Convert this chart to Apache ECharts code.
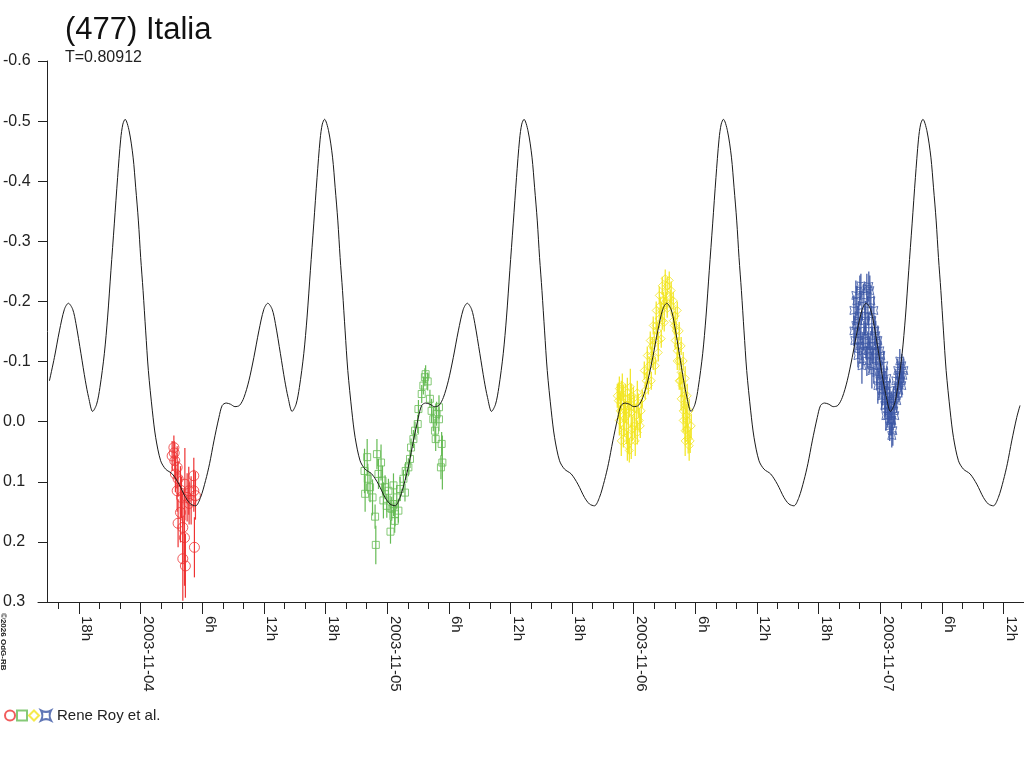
<!DOCTYPE html>
<html>
<head>
<meta charset="utf-8">
<script src="https://cdn.jsdelivr.net/npm/echarts/dist/echarts.min.js"></script>
<style>html,body{margin:0;padding:0;background:#fff}#c{width:1024px;height:768px}</style>
</head>
<body>
<div id="c"></div>
<script>
// ---- Data (time in hours from 2003-11-04 00:00 UT, magnitude) ----
const titleText = '(477) Italia';
const periodText = 'T=0.80912';
const periodDays = 0.80912;
const modelPeakHour = 17.90;           // a maximum (-0.5 mag) of the model curve

// one cycle of the model curve, hours after a maximum
const cycleDt  = [0,0.389,0.777,1.030,1.293,1.516,1.749,2.002,2.264,2.653,2.974,3.460,3.946,4.597,5.248,5.889,6.375,6.861,7.347,7.833,8.222,8.649,9.135,9.456,9.845,10.263,10.690,11.137,11.565,12.051,12.537,13.023,13.509,13.897,14.315,14.636,15.122,15.549,15.870,16.259,16.647,16.968,17.396,17.716,18.037,18.367,18.688,18.99,19.2];
const cycleMag = [-0.503,-0.484,-0.440,-0.390,-0.334,-0.273,-0.218,-0.151,-0.085,-0.018,0.026,0.065,0.079,0.087,0.104,0.126,0.137,0.140,0.126,0.098,0.070,0.032,-0.007,-0.027,-0.031,-0.029,-0.025,-0.027,-0.040,-0.068,-0.107,-0.151,-0.187,-0.197,-0.187,-0.163,-0.113,-0.068,-0.040,-0.017,-0.029,-0.057,-0.113,-0.174,-0.251,-0.329,-0.406,-0.470,-0.495];
const curveStart = -9.09, curveEnd = 85.87;

// observations [hour, mag, error]
const redObs = [
 [3.23,0.043,0.02],[3.06,0.057,0.025],[3.32,0.065,0.03],[3.55,0.076,0.035],[3.38,0.087,0.03],
 [3.55,0.115,0.035],[3.87,0.114,0.04],[4.30,0.104,0.06],[4.68,0.115,0.04],[5.17,0.090,0.03],
 [5.17,0.115,0.035],[4.52,0.126,0.04],[3.97,0.126,0.035],[5.33,0.123,0.04],[3.87,0.151,0.05],
 [3.64,0.169,0.04],[4.10,0.176,0.06],[4.26,0.193,0.08],[5.23,0.209,0.05],[4.10,0.228,0.07],
 [4.35,0.240,0.053],[3.26,0.052,0.02],[3.64,0.095,0.03],[4.91,0.131,0.04],[4.71,0.136,0.035]
];
const greenObs = [
 [22.05,0.059,0.03],[21.79,0.082,0.037],[22.11,0.095,0.025],[21.85,0.120,0.03],[22.33,0.109,0.025],
 [22.57,0.126,0.03],[23.00,0.054,0.025],[23.40,0.068,0.03],[23.15,0.087,0.025],[23.54,0.098,0.025],
 [23.79,0.109,0.02],[23.63,0.131,0.03],[24.12,0.115,0.02],[22.82,0.158,0.02],[22.89,0.205,0.032],
 [24.32,0.183,0.02],[24.28,0.143,0.02],[24.61,0.137,0.02],[24.76,0.154,0.02],[25.09,0.148,0.02],
 [24.93,0.126,0.02],[24.61,0.106,0.02],[25.25,0.112,0.02],[25.73,0.118,0.015],[25.58,0.095,0.015],
 [25.80,0.082,0.015],[26.06,0.076,0.015],[26.22,0.062,0.015],[26.32,0.043,0.015],[26.55,0.029,0.015],
 [26.71,0.015,0.015],[26.97,0.004,0.015],[27.04,-0.021,0.015],[27.36,-0.046,0.015],[27.52,-0.060,0.015],
 [27.67,-0.074,0.015],[27.94,-0.067,0.015],[27.74,-0.079,0.015],[28.32,-0.018,0.02],[28.49,-0.004,0.02],
 [28.81,-0.013,0.02],[29.04,-0.004,0.02],[28.65,0.015,0.02],[28.72,0.029,0.02],[29.30,0.037,0.02],
 [29.37,0.068,0.045],[29.23,0.076,0.02],[28.16,-0.038,0.015],[29.04,-0.024,0.02],
 [24.44,0.145,0.02],[24.73,0.165,0.02],[23.96,0.140,0.02]
];
const yellowObs = [
 [46.60,-0.055,0.02],[46.79,-0.043,0.025],[46.99,-0.032,0.03],[46.70,-0.018,0.03],[47.08,-0.005,0.03],
 [47.38,-0.048,0.025],[47.57,-0.027,0.02],[47.28,0.007,0.03],[47.76,-0.015,0.025],[47.96,-0.038,0.02],
 [47.47,0.023,0.03],[48.06,0.007,0.02],[48.25,-0.010,0.02],[47.76,0.032,0.03],[48.44,-0.027,0.02],
 [48.54,-0.002,0.02],[46.99,0.018,0.025],[47.67,-0.058,0.03],[48.15,0.032,0.025],[48.73,-0.018,0.02],
 [46.50,-0.035,0.03],[47.18,-0.018,0.02],[47.86,0.012,0.02],[48.35,0.018,0.02],[47.38,0.040,0.025],
 [46.40,-0.043,0.02],[46.60,-0.002,0.025],[46.89,-0.060,0.02],[47.18,-0.038,0.025],[47.47,-0.015,0.02],
 [47.76,-0.043,0.02],[48.06,-0.022,0.02],[48.35,-0.048,0.02],[48.64,0.007,0.02],[46.79,0.032,0.025],
 [47.57,0.048,0.02],
 [48.83,-0.038,0.015],[49.12,-0.052,0.015],[49.22,-0.068,0.015],[49.42,-0.060,0.015],[49.51,-0.093,0.015],
 [49.71,-0.110,0.015],[49.90,-0.101,0.015],[50.00,-0.135,0.015],[50.29,-0.151,0.015],[50.39,-0.135,0.015],
 [50.49,-0.171,0.015],[50.68,-0.185,0.015],[50.78,-0.168,0.015],[50.88,-0.201,0.015],[50.97,-0.193,0.015],
 [51.07,-0.215,0.015],[51.17,-0.201,0.015],[51.26,-0.226,0.015],[51.46,-0.235,0.015],[51.65,-0.218,0.015],
 [49.32,-0.082,0.015],[49.81,-0.126,0.015],[50.19,-0.160,0.015],[50.58,-0.193,0.015],
 [49.03,-0.085,0.015],[49.32,-0.110,0.015],[49.61,-0.135,0.015],[49.90,-0.160,0.015],[50.19,-0.185,0.015],
 [50.49,-0.210,0.015],[50.78,-0.226,0.015],[51.07,-0.238,0.015],
 [49.71,-0.068,0.015],[50.10,-0.093,0.015],[50.39,-0.115,0.015],[50.68,-0.138,0.015],[50.97,-0.165,0.015],
 [51.26,-0.188,0.015],[51.55,-0.205,0.015],
 [51.85,-0.201,0.015],[51.95,-0.160,0.015],[52.04,-0.176,0.015],[52.14,-0.151,0.015],[52.24,-0.118,0.015],
 [52.33,-0.126,0.015],[52.43,-0.101,0.015],[52.53,-0.068,0.015],[52.62,-0.082,0.02],[52.72,-0.060,0.02],
 [52.82,-0.018,0.02],[52.92,-0.043,0.02],[53.01,-0.027,0.02],[53.01,0.015,0.02],[53.11,-0.010,0.02],
 [53.21,0.012,0.02],[53.21,-0.002,0.02],[53.30,0.028,0.025],[53.40,0.040,0.025],[53.50,0.032,0.02],
 [51.65,-0.193,0.015],[51.85,-0.168,0.015],[52.04,-0.135,0.015],[52.24,-0.101,0.015],[52.43,-0.068,0.015],
 [52.62,-0.038,0.02],[52.82,-0.002,0.02],[53.01,0.032,0.025],
 [52.24,-0.185,0.015],[52.43,-0.151,0.015],[52.62,-0.126,0.015],[52.82,-0.101,0.015],[53.01,-0.072,0.02],
 [53.21,-0.043,0.02],[53.40,-0.018,0.02],[53.60,0.007,0.02]
];
const blueObs = [
 [69.44,-0.185,0.025],[69.63,-0.160,0.025],[69.73,-0.201,0.025],[69.83,-0.135,0.03],[69.92,-0.176,0.025],
 [70.02,-0.218,0.025],[70.12,-0.151,0.03],[70.22,-0.193,0.025],[70.31,-0.118,0.03],[70.41,-0.210,0.02],
 [70.51,-0.168,0.025],[70.60,-0.135,0.03],[70.70,-0.221,0.025],[70.80,-0.185,0.025],[70.89,-0.151,0.03],
 [70.99,-0.110,0.03],[71.09,-0.201,0.025],[71.19,-0.168,0.025],[71.28,-0.126,0.03],[71.38,-0.093,0.03],
 [71.48,-0.151,0.025],[71.57,-0.118,0.025],[71.67,-0.082,0.03],[71.77,-0.135,0.025],[71.87,-0.101,0.025],
 [71.96,-0.068,0.03],[72.06,-0.110,0.025],[72.16,-0.077,0.025],[72.25,-0.052,0.025],[72.35,-0.093,0.025],
 [72.45,-0.060,0.025],[72.55,-0.035,0.025],[72.64,-0.072,0.02],[72.74,-0.043,0.02],[72.84,-0.018,0.02],
 [72.93,-0.052,0.02],[73.03,-0.002,0.025],[73.13,-0.027,0.02],[73.23,0.015,0.025],[73.32,-0.038,0.02],
 [73.42,-0.010,0.02],[73.52,-0.068,0.02],[73.61,-0.035,0.02],[73.71,-0.085,0.02],[73.81,-0.052,0.02],
 [73.91,-0.101,0.02],[74.00,-0.068,0.02],[74.10,-0.093,0.02],[74.20,-0.077,0.02],[72.93,0.007,0.025],
 [73.13,0.023,0.02],[72.74,-0.010,0.02],[72.45,-0.027,0.02],[69.83,-0.110,0.02],[70.12,-0.226,0.02],
 [70.89,-0.225,0.025],[69.53,-0.135,0.02],[70.70,-0.101,0.025],[71.09,-0.126,0.025],
 [69.44,-0.151,0.025],[69.63,-0.210,0.025],[69.83,-0.168,0.025],[70.02,-0.126,0.03],[70.22,-0.093,0.03],
 [70.41,-0.143,0.025],[70.60,-0.176,0.025],[70.80,-0.118,0.03],[70.99,-0.218,0.025],[71.19,-0.085,0.03],
 [71.38,-0.185,0.025],[71.57,-0.143,0.025],[71.77,-0.060,0.03],[71.96,-0.118,0.025],[72.16,-0.043,0.025],
 [72.35,-0.068,0.025],[72.55,-0.010,0.025],[72.74,-0.027,0.02],[72.93,-0.035,0.02],[73.13,-0.002,0.025],
 [73.32,-0.018,0.02],[73.52,-0.043,0.02],[73.71,-0.060,0.02],[73.91,-0.077,0.02],[74.10,-0.060,0.02],
 [74.30,-0.085,0.02]
];

// axis ticks and labels
const xMajorHours  = [-6,0,6,12,18,24,30,36,42,48,54,60,66,72,78,84];
const xMajorLabels = ['18h','2003-11-04','6h','12h','18h','2003-11-05','6h','12h','18h','2003-11-06','6h','12h','18h','2003-11-07','6h','12h'];
const xMinorHours  = [-8,-4,-2,2,4,8,10,14,16,20,22,26,28,32,34,38,40,44,46,50,52,56,58,62,64,68,70,74,76,80,82];
const yTicks       = [-0.6,-0.5,-0.4,-0.3,-0.2,-0.1,0.0,0.1,0.2,0.3];
const yTickLabels  = ['-0.6','-0.5','-0.4','-0.3','-0.2','-0.1','0.0','0.1','0.2','0.3'];
const legendLabel  = 'Rene Roy et al.';
const copyright    = '\u00A92026 OdG-RB';

// ---- build model curve from the cycle ----
const periodH = periodDays * 24;
const curve = [];
for (let k = -2; k <= 4; k++) {
  for (let i = 0; i < cycleDt.length; i++) {
    const t = modelPeakHour + k * periodH + cycleDt[i];
    if (t >= curveStart && t <= curveEnd) curve.push([t, cycleMag[i]]);
  }
}
curve.sort((a, b) => a[0] - b[0]);

const FR = "'Liberation Sans',Arial,sans-serif";
const COL = { red: '#ee3333', green: '#66bb55', yellow: '#f2e51e', blue: '#3a55a4' };
const astroid = 'path://M-1,-1 Q0,-0.45 1,-1 Q0.45,0 1,1 Q0,0.45 -1,1 Q-0.45,0 -1,-1 Z';

function errSeries(name, data, color) {
  return {
    name: name, type: 'custom', data: data, z: 2, silent: true,
    encode: { x: 0, y: 1 },
    renderItem: function (params, api) {
      const x = api.value(0), y = api.value(1), e = api.value(2);
      const a = api.coord([x, y - e]), b = api.coord([x, y + e]);
      return { type: 'line', shape: { x1: a[0], y1: a[1], x2: b[0], y2: b[1] },
               style: { stroke: color, lineWidth: 1.2 } };
    }
  };
}
function ptSeries(name, data, color, symbol, size) {
  return {
    name: name, type: 'scatter', data: data, z: 3, symbol: symbol, symbolSize: size,
    itemStyle: { color: 'transparent', borderColor: color, borderWidth: 1 }
  };
}

const chart = echarts.init(document.getElementById('c'), null, { renderer: 'canvas' });
chart.setOption({
  animation: false,
  backgroundColor: '#ffffff',
  grid: { left: 36, right: 0, top: 61, bottom: 166, containLabel: false },
  xAxis: [
    { type: 'value', min: -10, max: 86, position: 'bottom',
      axisLine: { show: true, onZero: false, lineStyle: { color: '#222', width: 1 } },
      splitLine: { show: false },
      axisTick: { show: true, length: 12, customValues: xMajorHours, lineStyle: { color: '#222' } },
      axisLabel: { show: true, customValues: xMajorHours, rotate: -90, margin: 14,
        align: 'left', verticalAlign: 'bottom',
        fontFamily: FR, fontSize: 15, color: '#222',
        formatter: function (v) { const i = xMajorHours.indexOf(Math.round(v)); return i >= 0 ? xMajorLabels[i] : ''; } } },
    { type: 'value', min: -10, max: 86, position: 'bottom',
      axisLine: { show: false, onZero: false }, splitLine: { show: false },
      axisTick: { show: true, length: 7, customValues: xMinorHours, lineStyle: { color: '#222' } },
      axisLabel: { show: false } }
  ],
  yAxis: { type: 'value', min: -0.6, max: 0.3, interval: 0.1, inverse: true, offset: -9,
    axisLine: { show: true, onZero: false, lineStyle: { color: '#222', width: 1 } },
    axisTick: { show: true, length: 9, lineStyle: { color: '#222' } },
    splitLine: { show: false },
    axisLabel: { align: 'left', margin: 44, fontFamily: FR, fontSize: 16, color: '#222',
      padding: [0, 0, 4, 0],
      formatter: function (v) { let best = 0; for (let i = 0; i < yTicks.length; i++) if (Math.abs(yTicks[i] - v) < Math.abs(yTicks[best] - v)) best = i; return yTickLabels[best]; } } },
  legend: { left: 4, top: 708, padding: 0, orient: 'horizontal', itemWidth: 10, itemHeight: 10, itemGap: 0,
    data: ['r', 'g', 'y', 'b'],
    formatter: function (n) { return n === 'b' ? legendLabel : ''; },
    textStyle: { fontFamily: FR, fontSize: 15, color: '#222', padding: [0, 0, 0, 1] } },
  graphic: [
    { type: 'text', x: 65, y: 30, style: { text: titleText, font: '31px ' + FR, fill: '#111', align: 'left', verticalAlign: 'middle' } },
    { type: 'text', x: 65, y: 58, style: { text: periodText, font: '16px ' + FR, fill: '#222', align: 'left', verticalAlign: 'middle' } },
    { type: 'text', x: 3, y: 613, rotation: -Math.PI / 2, style: { text: copyright, font: 'bold 8px ' + FR, fill: '#222', align: 'left', verticalAlign: 'middle' } }
  ],
  series: [
    errSeries('re', redObs, COL.red),
    errSeries('ge', greenObs, COL.green),
    errSeries('ye', yellowObs, COL.yellow),
    errSeries('be', blueObs, COL.blue),
    ptSeries('r', redObs, COL.red, 'circle', 10),
    ptSeries('g', greenObs, COL.green, 'rect', 7),
    ptSeries('y', yellowObs, COL.yellow, 'diamond', 8),
    ptSeries('b', blueObs, COL.blue, astroid, 8),
    { name: 'model', type: 'line', data: curve, z: 5, showSymbol: false, smooth: 0.3,
      lineStyle: { color: '#1a1a1a', width: 1 }, silent: true }
  ]
});
</script>
</body>
</html>
